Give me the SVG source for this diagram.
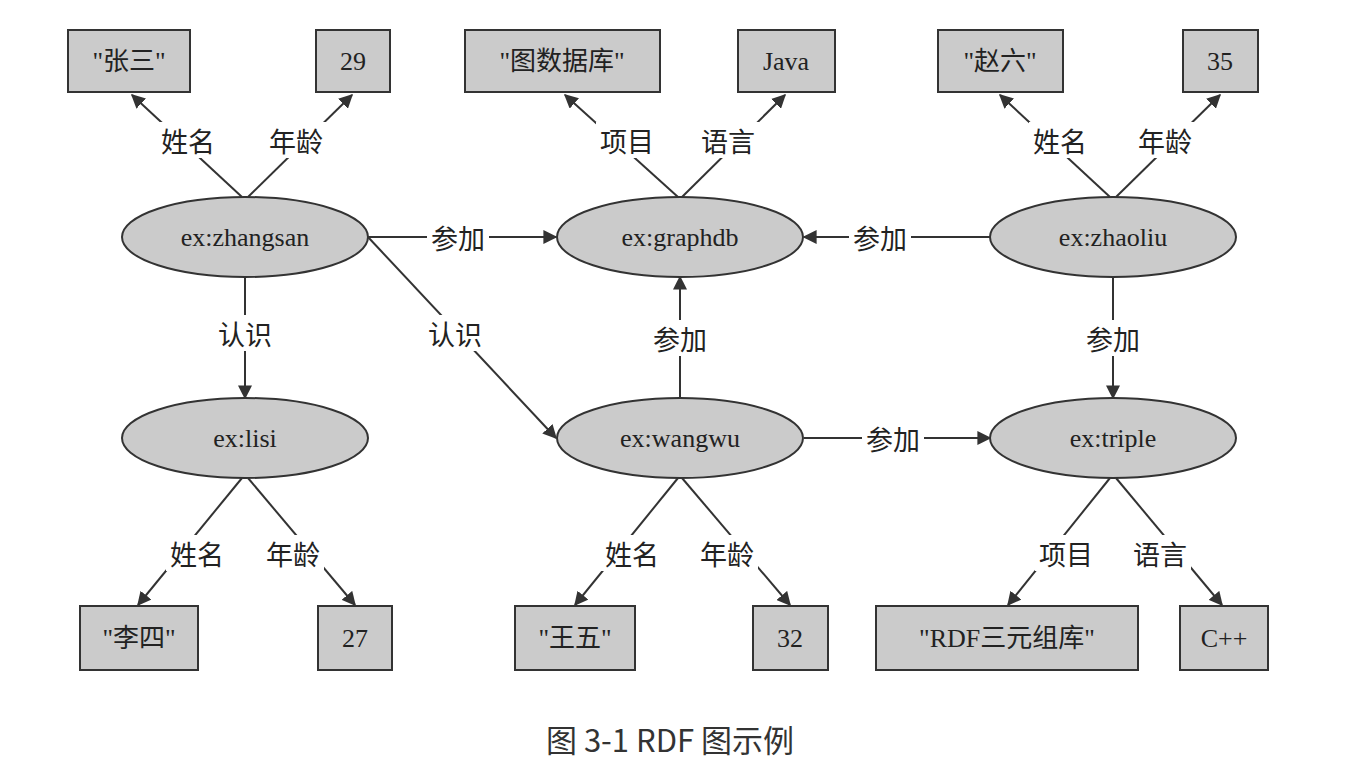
<svg xmlns="http://www.w3.org/2000/svg" width="1364" height="778" viewBox="0 0 1364 778">
<defs>
<marker id="a" viewBox="0 0 10 10" refX="9" refY="5" markerWidth="14" markerHeight="14" markerUnits="userSpaceOnUse" orient="auto"><path d="M0,0 L10,5 L0,10 z" fill="#333"/></marker>
<style>
.b{fill:#cbcbcb;stroke:#333;stroke-width:2}
.n{font-family:"Liberation Serif","Noto Sans CJK SC",serif;font-size:26px;fill:#222;text-anchor:middle;dominant-baseline:central}
.l{font-family:"Noto Sans CJK SC",sans-serif;font-size:27px;fill:#222;text-anchor:middle;dominant-baseline:central}
.e line{stroke:#333;stroke-width:2;marker-end:url(#a)}
.e rect{fill:#fff}
</style>
</defs>
<rect width="1364" height="778" fill="#fff"/>
<g class="e" id="connectors">
<line x1="242" y1="197" x2="132" y2="95"/>
<line x1="248" y1="197" x2="352" y2="95"/>
<line x1="678" y1="197" x2="565" y2="95"/>
<line x1="682" y1="197" x2="785" y2="95"/>
<line x1="1110" y1="197" x2="1000" y2="95"/>
<line x1="1116" y1="197" x2="1220" y2="95"/>
<line x1="368" y1="237" x2="556" y2="237"/>
<line x1="990" y1="237" x2="804" y2="237"/>
<line x1="245" y1="277" x2="245" y2="398"/>
<line x1="368" y1="237" x2="556" y2="438"/>
<line x1="680" y1="398" x2="680" y2="277"/>
<line x1="1113" y1="277" x2="1113" y2="398"/>
<line x1="804" y1="438" x2="990" y2="438"/>
<line x1="242" y1="478" x2="138" y2="605"/>
<line x1="248" y1="478" x2="355" y2="605"/>
<line x1="678" y1="478" x2="575" y2="605"/>
<line x1="682" y1="478" x2="790" y2="605"/>
<line x1="1110" y1="478" x2="1008" y2="605"/>
<line x1="1116" y1="478" x2="1222" y2="605"/>
<rect x="157" y="122" width="62" height="36"/><text class="l" x="188" y="140">姓名</text>
<rect x="265" y="122" width="62" height="36"/><text class="l" x="296" y="140">年龄</text>
<rect x="596" y="122" width="62" height="36"/><text class="l" x="627" y="140">项目</text>
<rect x="697" y="122" width="62" height="36"/><text class="l" x="728" y="140">语言</text>
<rect x="1029" y="122" width="62" height="36"/><text class="l" x="1060" y="140">姓名</text>
<rect x="1134" y="122" width="62" height="36"/><text class="l" x="1165" y="140">年龄</text>
<rect x="427" y="219" width="62" height="36"/><text class="l" x="458" y="237">参加</text>
<rect x="849" y="219" width="62" height="36"/><text class="l" x="880" y="237">参加</text>
<rect x="212" y="315" width="66" height="36"/><text class="l" x="245" y="333">认识</text>
<rect x="422" y="315" width="66" height="36"/><text class="l" x="455" y="333">认识</text>
<rect x="649" y="320" width="62" height="36"/><text class="l" x="680" y="338">参加</text>
<rect x="1082" y="320" width="62" height="36"/><text class="l" x="1113" y="338">参加</text>
<rect x="862" y="420" width="62" height="36"/><text class="l" x="893" y="438">参加</text>
<rect x="166" y="535" width="62" height="36"/><text class="l" x="197" y="553">姓名</text>
<rect x="262" y="535" width="62" height="36"/><text class="l" x="293" y="553">年龄</text>
<rect x="601" y="535" width="62" height="36"/><text class="l" x="632" y="553">姓名</text>
<rect x="696" y="535" width="62" height="36"/><text class="l" x="727" y="553">年龄</text>
<rect x="1035" y="535" width="62" height="36"/><text class="l" x="1066" y="553">项目</text>
<rect x="1129" y="535" width="62" height="36"/><text class="l" x="1160" y="553">语言</text>
</g>
<g id="zhangsan"><ellipse class="b" cx="245" cy="237" rx="123" ry="40"/><text class="n" x="245" y="237">ex:zhangsan</text></g>
<g id="graphdb"><ellipse class="b" cx="680" cy="237" rx="123" ry="40"/><text class="n" x="680" y="237">ex:graphdb</text></g>
<g id="zhaoliu"><ellipse class="b" cx="1113" cy="237" rx="123" ry="40"/><text class="n" x="1113" y="237">ex:zhaoliu</text></g>
<g id="lisi"><ellipse class="b" cx="245" cy="438" rx="123" ry="40"/><text class="n" x="245" y="438">ex:lisi</text></g>
<g id="wangwu"><ellipse class="b" cx="680" cy="438" rx="123" ry="40"/><text class="n" x="680" y="438">ex:wangwu</text></g>
<g id="triple"><ellipse class="b" cx="1113" cy="438" rx="123" ry="40"/><text class="n" x="1113" y="438">ex:triple</text></g>
<g id="b1"><rect class="b" x="68" y="30" width="122" height="62"/><text class="n" x="129" y="61">"张三"</text></g>
<g id="b2"><rect class="b" x="316" y="30" width="74" height="62"/><text class="n" x="353" y="61">29</text></g>
<g id="b3"><rect class="b" x="465" y="30" width="195" height="62"/><text class="n" x="562" y="61">"图数据库"</text></g>
<g id="b4"><rect class="b" x="738" y="30" width="97" height="62"/><text class="n" x="786" y="61">Java</text></g>
<g id="b5"><rect class="b" x="938" y="30" width="125" height="62"/><text class="n" x="1000" y="61">"赵六"</text></g>
<g id="b6"><rect class="b" x="1183" y="30" width="75" height="62"/><text class="n" x="1220" y="61">35</text></g>
<g id="b7"><rect class="b" x="80" y="606" width="118" height="64"/><text class="n" x="139" y="638">"李四"</text></g>
<g id="b8"><rect class="b" x="318" y="606" width="74" height="64"/><text class="n" x="355" y="638">27</text></g>
<g id="b9"><rect class="b" x="515" y="606" width="120" height="64"/><text class="n" x="575" y="638">"王五"</text></g>
<g id="b10"><rect class="b" x="753" y="606" width="75" height="64"/><text class="n" x="790" y="638">32</text></g>
<g id="b11"><rect class="b" x="876" y="606" width="262" height="64"/><text class="n" x="1007" y="638">"RDF三元组库"</text></g>
<g id="b12"><rect class="b" x="1180" y="606" width="88" height="64"/><text class="n" x="1224" y="638">C++</text></g>
<text x="670" y="738" font-family="'Noto Sans CJK SC',sans-serif" font-size="31" fill="#333" text-anchor="middle" dominant-baseline="central">图 3-1  RDF 图示例</text>
</svg>
